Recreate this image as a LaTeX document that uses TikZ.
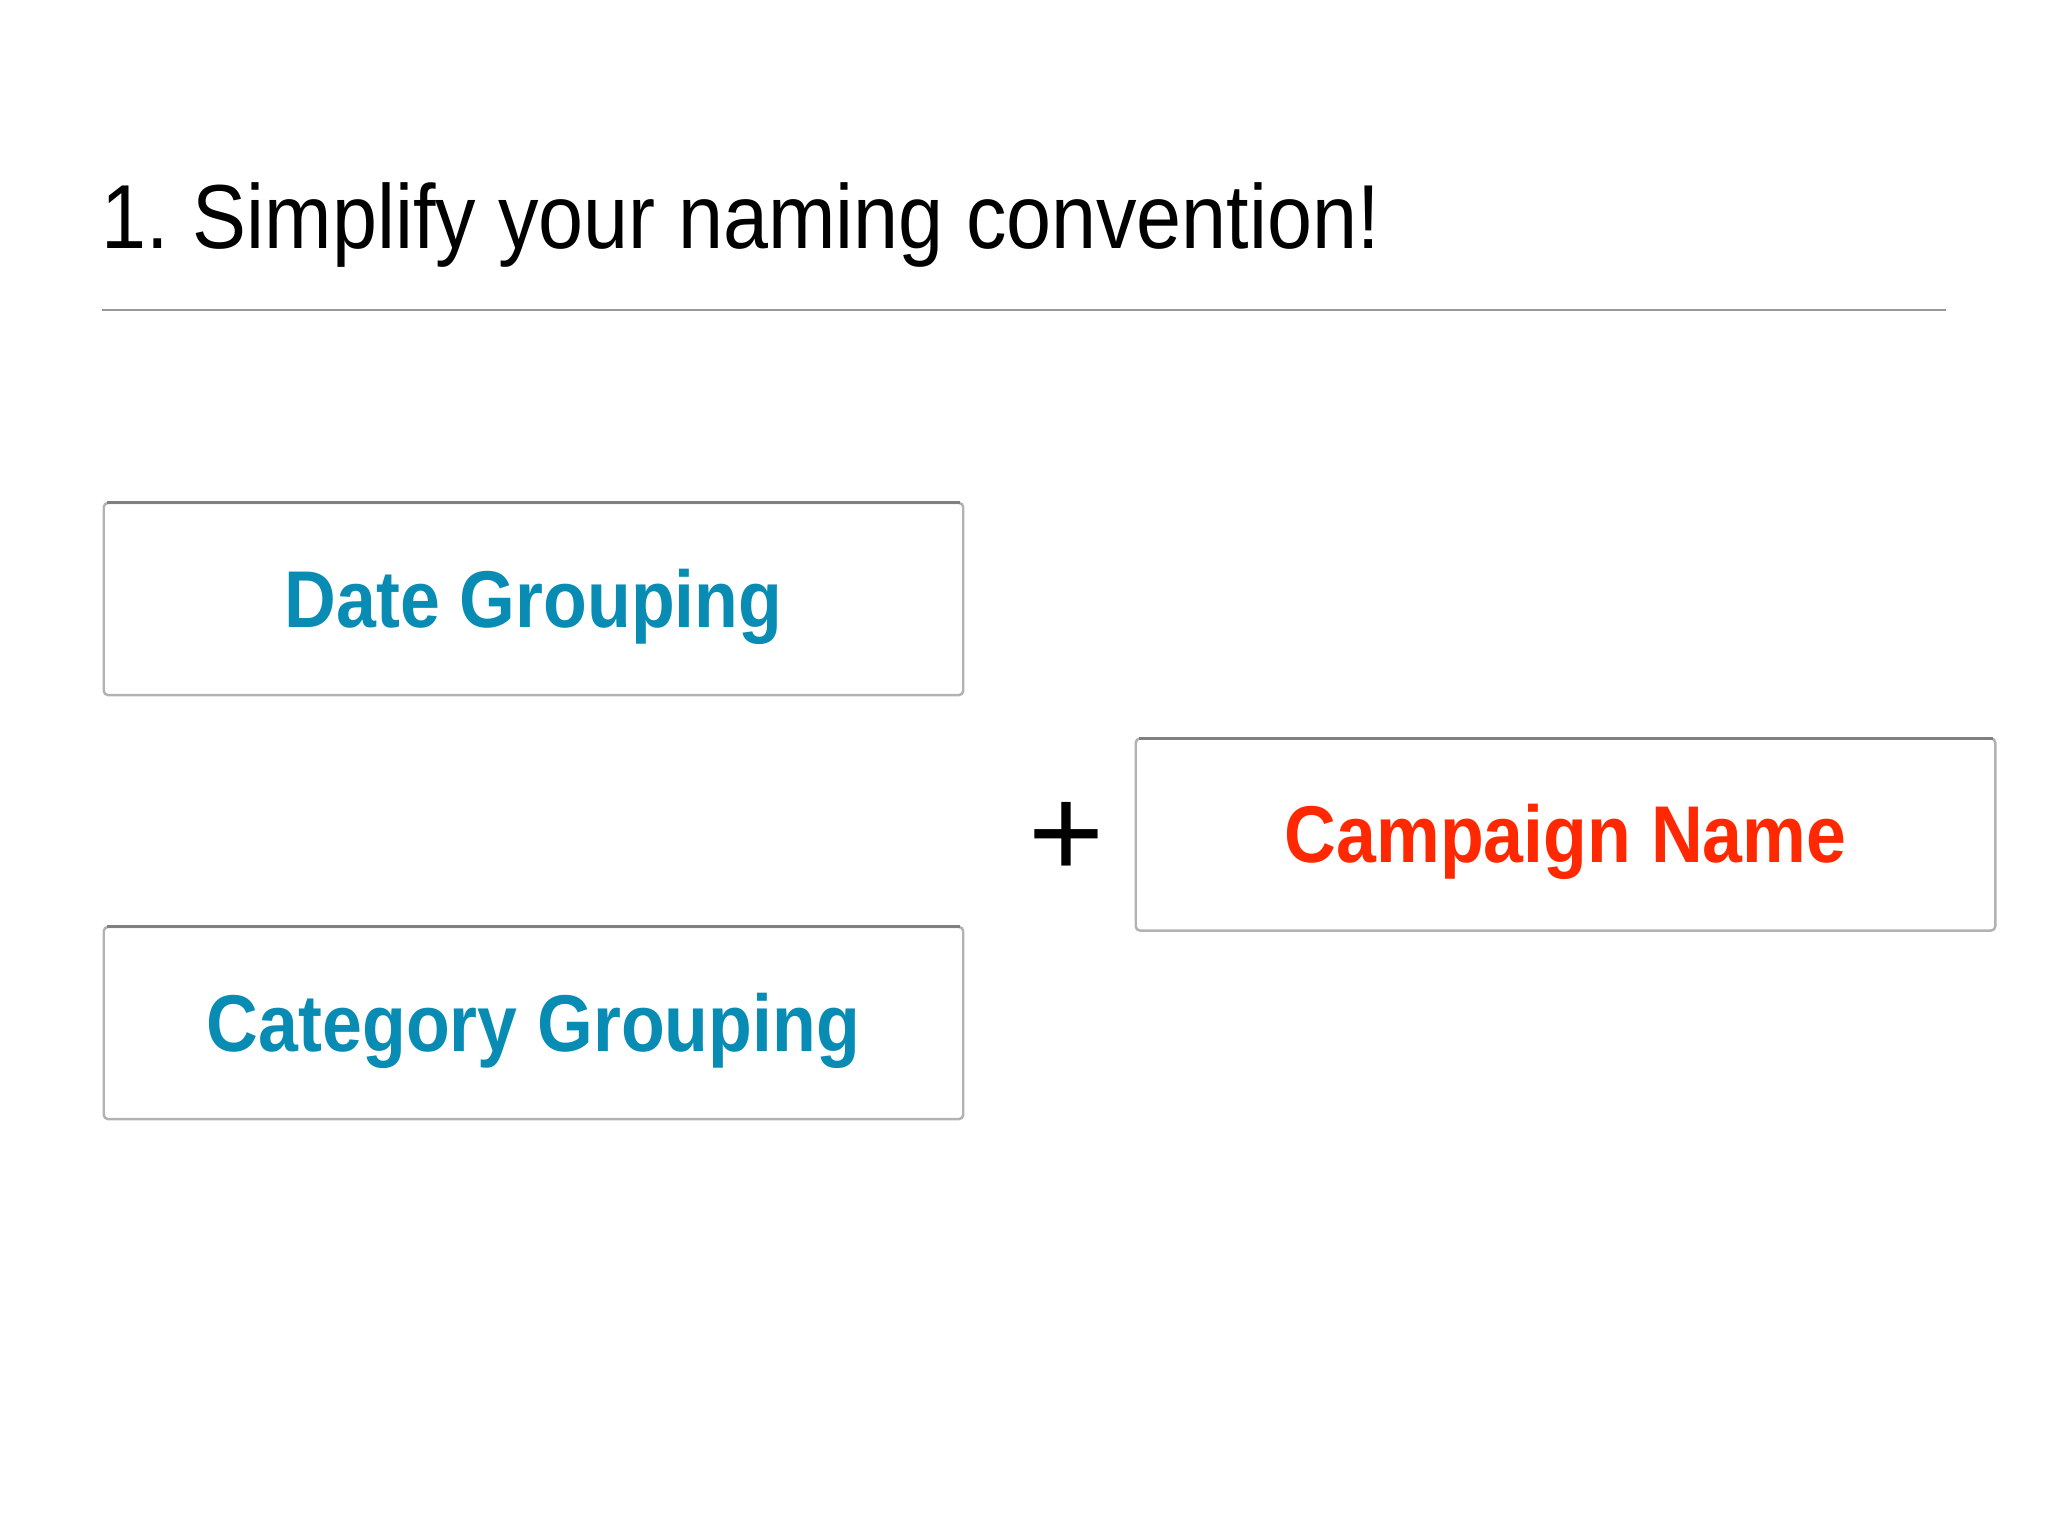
\documentclass[tikz,border=0pt]{standalone}
\usepackage{fontspec}
\setmainfont[FakeStretch=0.89]{Liberation Sans}
\newfontfamily\plusfont{Liberation Sans}
\usepackage{xcolor}
\usepackage{tikz}
\usetikzlibrary{positioning, calc}
\definecolor{groupblue}{RGB}{8,140,180}
\definecolor{namered}{RGB}{255,40,0}

\begin{document}
\begin{tikzpicture}[
    x = 0.01cm, y = -0.01cm,
    titletext/.style = {anchor = base west, inner sep = 0pt, font = \fontsize{25.85pt}{30pt}\selectfont},
    groupbox/.style = {rectangle, rounded corners = 1.2pt, draw = black!30, line width = 0.7pt, fill = white,
        minimum width = 8.59cm, minimum height = 1.92cm, inner sep = 0pt,
        text height = 16.2pt, text depth = 0pt, font = \bfseries\fontsize{22.9pt}{26pt}\selectfont},
    topedge/.style = {draw = black!50, line width = 0.9pt},
    ]

    \useasboundingbox (0,0) rectangle (2048,1536);

    % heading and rule
    \node [titletext] (title) at (101,248) {1.\hspace{-1.8pt} Simplify your naming convention!};
    \coordinate (ruleL) at (102,310);
    \coordinate (ruleR) at (1946,310);
    \draw [black!40, line width = 0.6pt] (ruleL) -- (ruleR);

    % grouping boxes
    \node [groupbox, text = groupblue] (date)     at (533.5,599)  {Date Grouping};
    \node [groupbox, text = groupblue] (category) at (533.5,1023)  {Category Grouping};
    \node [groupbox, text = namered]   (campaign) at (1565.5,834.5) {Campaign Name};

    % darker upper edges
    \foreach \b in {date, category, campaign}
        \draw [topedge] ($(\b.north west)+(4,1)$) -- ($(\b.north east)+(-4,1)$);

    % plus sign
    \node [inner sep = 0pt, font = \plusfont\fontsize{37pt}{40pt}\selectfont] (plus) at (1066,840) {+};
\end{tikzpicture}
\end{document}
